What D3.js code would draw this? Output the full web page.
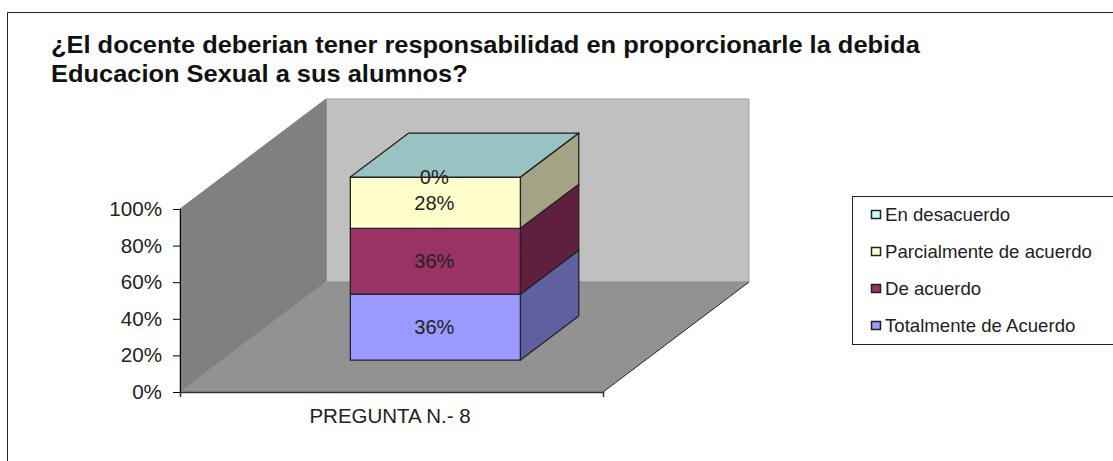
<!DOCTYPE html>
<html>
<head>
<meta charset="utf-8">
<script src="https://cdn.jsdelivr.net/npm/d3@7"></script>
<style>
  html, body { margin: 0; padding: 0; background: #fff; overflow: hidden; }
  text { font-family: "Liberation Sans", Arial, sans-serif; fill: #222; }
</style>
</head>
<body>
<div id="chart"></div>
<script>
const titleLines = [
  "¿El docente deberian tener responsabilidad en proporcionarle la debida",
  "Educacion Sexual a sus alumnos?"
];
const categories = ["PREGUNTA N.- 8"];
const seriesNames = ["Totalmente de Acuerdo", "De acuerdo", "Parcialmente de acuerdo", "En desacuerdo"];
const seriesValues = [0.36, 0.36, 0.28, 0];
const seriesLabels = ["36%", "36%", "28%", "0%"];
const seriesColors = ["#9999ff", "#993366", "#ffffcc", "#ccffff"];
const topColor = "#99c2c2";
const sideColors = ["#6060a0", "#5f2040", "#a3a385", "#80a0a0"];
const tickValues = [0, 0.2, 0.4, 0.6, 0.8, 1];

const width = 1113, height = 461;
// la imagen original esta un poco estirada a lo ancho
const stretched = (px, py, k) => "translate(" + px + "," + py + ") scale(" + k + ",1)";

const svg = d3.select("#chart").append("svg")
    .attr("width", width)
    .attr("height", height);

// marco exterior
svg.append("path")
    .attr("d", "M7.5,461V12.5H1113")
    .attr("fill", "none")
    .attr("stroke", "#222");

svg.append("g").selectAll("text")
    .data(titleLines)
  .join("text")
    .attr("transform", (d, i) => stretched(51, 52.5 + i * 29.5, 1.106))
    .attr("font-size", 23)
    .attr("font-weight", "bold")
    .style("fill", "#111")
    .text(d => d);

// escalas: plano frontal y profundidad
const y = d3.scaleLinear().domain([0, 1]).range([392, 209]);
const x = d3.scaleBand().domain(categories).range([180, 603]).paddingInner(0).paddingOuter(0.744).align(0.506);
const depthX = d3.scaleLinear().domain([0, 1]).range([0, 146]);
const depthY = d3.scaleLinear().domain([0, 1]).range([0, -110]);

function project(px, value, depth) {
  return [px + depthX(depth), y(value) + depthY(depth)];
}
const line = d3.line();
const poly = pts => line(pts) + "Z";

const x0 = x.range()[0], x1 = x.range()[1];

// piso y paredes
svg.append("path")
    .attr("d", poly([project(x0, 0, 1), project(x0, 1, 1), project(x1, 1, 1), project(x1, 0, 1)]))
    .attr("fill", "#c0c0c0")
    .attr("stroke", "#a0a0a0");
svg.append("path")
    .attr("d", poly([project(x0, 0, 0), project(x0, 1, 0), project(x0, 1, 1), project(x0, 0, 1)]))
    .attr("fill", "#808080")
    .attr("stroke", "#808080");
svg.append("path")
    .attr("d", poly([project(x0, 0, 0), project(x1, 0, 0), project(x1, 0, 1), project(x0, 0, 1)]))
    .attr("fill", "#929292")
    .attr("stroke", "#929292");
svg.append("path")
    .attr("d", line([project(x1, 0, 0), project(x1, 0, 1)]))
    .attr("fill", "none")
    .attr("stroke", "#333");

// barra apilada
const stackRows = [Object.fromEntries(seriesNames.map((n, i) => [n, seriesValues[i]]))];
const stacked = d3.stack().keys(seriesNames)(stackRows);

const barFront = 0.29, barBack = 0.69;
const barLeft = x(categories[0]);
const barRight = barLeft + x.bandwidth();

const segs = svg.append("g").attr("stroke", "#222").attr("stroke-width", 1.3).attr("stroke-linejoin", "round");
stacked.forEach((s, i) => {
  const lo = s[0][0], hi = s[0][1];
  segs.append("path")
      .attr("d", poly([
        project(barRight, lo, barFront), project(barRight, hi, barFront),
        project(barRight, hi, barBack), project(barRight, lo, barBack)]))
      .attr("fill", sideColors[i]);
  segs.append("path")
      .attr("d", poly([
        project(barLeft, lo, barFront), project(barRight, lo, barFront),
        project(barRight, hi, barFront), project(barLeft, hi, barFront)]))
      .attr("fill", seriesColors[i]);
});
const topValue = d3.sum(seriesValues);
segs.append("path")
    .attr("d", poly([
      project(barLeft, topValue, barFront), project(barRight, topValue, barFront),
      project(barRight, topValue, barBack), project(barLeft, topValue, barBack)]))
    .attr("fill", topColor);

// etiquetas de datos
svg.append("g").selectAll("text")
    .data(stacked)
  .join("text")
    .attr("transform", d => stretched(
      project((barLeft + barRight) / 2, 0, barFront)[0] - 1,
      project(0, (d[0][0] + d[0][1]) / 2, barFront)[1] + 7, 1.03))
    .attr("text-anchor", "middle")
    .attr("font-size", 19.5)
    .text((d, i) => seriesLabels[i]);

// ejes
const yAxis = svg.append("g")
    .attr("transform", "translate(" + x0 + ",0)")
    .call(d3.axisLeft(y).tickValues(tickValues).tickFormat(d3.format(".0%")).tickSize(7));
yAxis.attr("font-family", null);
yAxis.selectAll(".tick text")
    .attr("x", null)
    .attr("dy", "0.33em")
    .attr("transform", stretched(-18, 0, 1.06))
    .attr("font-size", 19.5)
    .style("fill", "#222");

const xAxis = svg.append("g")
    .attr("transform", "translate(0,392)")
    .call(d3.axisBottom(x).tickValues([]).tickSizeOuter(5));
xAxis.attr("font-family", null);
xAxis.select(".domain").attr("stroke", "#333").attr("stroke-width", 1.5);

svg.append("text")
    .attr("transform", stretched(x(categories[0]) + x.bandwidth() / 2 - 3, 423, 1.05))
    .attr("text-anchor", "middle")
    .attr("font-size", 19.5)
    .text(categories[0]);

// leyenda
const legend = svg.append("g");
legend.append("rect")
    .attr("x", 852.5).attr("y", 196.5)
    .attr("width", 280).attr("height", 148)
    .attr("fill", "#fff").attr("stroke", "#222");

const legendY = d3.scalePoint()
    .domain(seriesNames.slice().reverse())
    .range([214, 325]);

const items = legend.selectAll("g")
    .data(seriesNames)
  .join("g")
    .attr("transform", d => "translate(871," + legendY(d) + ")");
items.append("rect")
    .attr("x", 0.5).attr("y", -3.5)
    .attr("width", 9).attr("height", 8)
    .attr("fill", (d, i) => seriesColors[i])
    .attr("stroke", "#222")
    .attr("stroke-width", 1.5);
items.append("text")
    .attr("transform", stretched(14, 6.5, 1.035))
    .attr("font-size", 18)
    .text(d => d);
</script>
</body>
</html>
